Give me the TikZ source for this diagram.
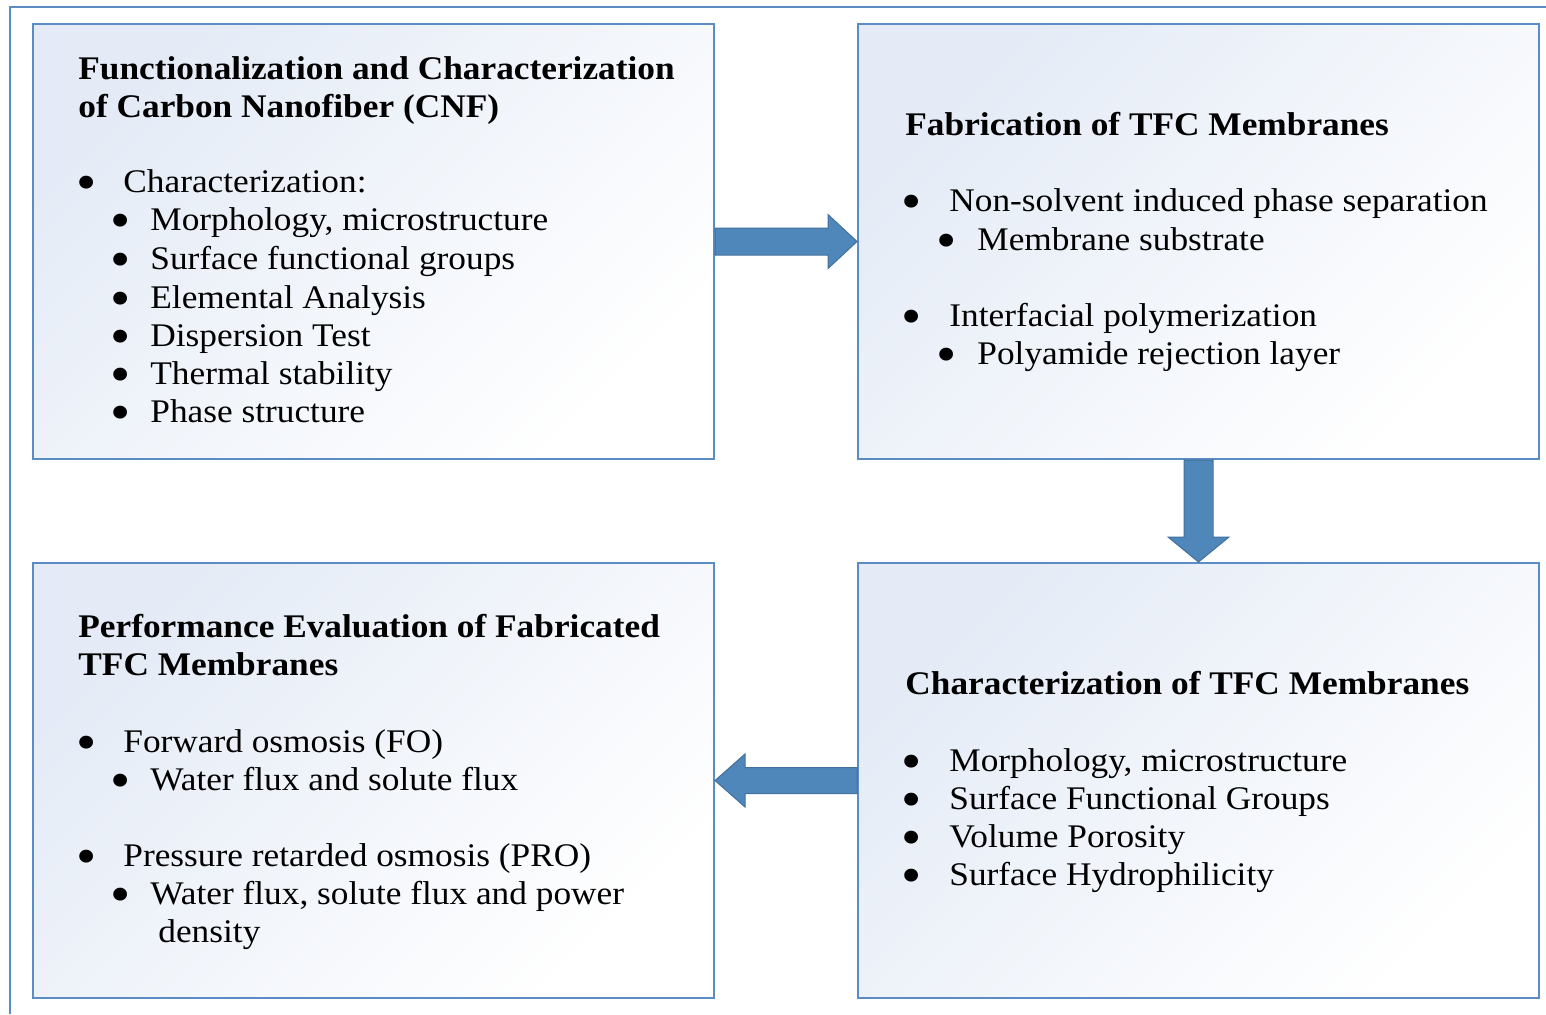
\documentclass[tikz,border=0pt]{standalone}
\usepackage{graphicx}
\usepackage{fontspec}
\setmainfont{Liberation Serif}[FakeStretch=1.07]
\usetikzlibrary{calc}
\definecolor{frameblue}{RGB}{91,140,196}
\definecolor{boxtop}{RGB}{228,235,246}
\definecolor{arrowfill}{RGB}{79,135,186}
\definecolor{arrowline}{RGB}{65,113,156}
\newcommand{\bigbullet}{\smash{\scalebox{1.636}{•}}}
\begin{document}
\begin{tikzpicture}[x=0.5pt,y=-0.5pt,
  panel/.style={draw=frameblue, line width=1pt, minimum width=340.5pt, minimum height=217.5pt,
    inner sep=0pt, anchor=north west, top color=boxtop, bottom color=white, shading angle=45},
  txt/.style={anchor=base west, inner sep=0pt, font=\fontsize{16.5pt}{19pt}\selectfont},
  ttl/.style={anchor=base west, inner sep=0pt, font=\fontsize{16.5pt}{19pt}\selectfont\bfseries},
  bul/.style={anchor=base, inner sep=0pt, yshift=-4pt, font=\fontsize{16.5pt}{19pt}\selectfont},
  blockarrow/.style={fill=arrowfill, draw=arrowline, line width=0.5pt, line join=miter}]
\useasboundingbox (0,0) rectangle (1546,1014);
\fill[white] (0,0) rectangle (1546,1014);
% outer frame
\coordinate (fa) at (10,1014);
\coordinate (fb) at (10,7);
\coordinate (fc) at (1546,7);
\draw[frameblue, line width=1pt] (fa) -- (fb) -- (fc);
% panels
\node[panel] (b1) at (32,23) {};
\node[panel] (b2) at (857,23) {};
\node[panel] (b3) at (32,562) {};
\node[panel] (b4) at (857,562) {};
% arrows
\draw[blockarrow] ($(b1.east)+(0,-13.5)$) -- ($(b2.west)+(-29,-13.5)$) -- ($(b2.west)+(-29,-27)$) -- (b2.west)
  -- ($(b2.west)+(-29,27)$) -- ($(b2.west)+(-29,13.5)$) -- ($(b1.east)+(0,13.5)$) -- cycle;
\draw[blockarrow] ($(b2.south)+(-14.5,0)$) -- ($(b4.north)+(-14.5,-25)$) -- ($(b4.north)+(-30.5,-25)$) -- (b4.north)
  -- ($(b4.north)+(30.5,-25)$) -- ($(b4.north)+(14.5,-25)$) -- ($(b2.south)+(14.5,0)$) -- cycle;
\draw[blockarrow] ($(b4.west)+(0,-13)$) -- ($(b3.east)+(30,-13)$) -- ($(b3.east)+(30,-26.5)$) -- (b3.east)
  -- ($(b3.east)+(30,26.5)$) -- ($(b3.east)+(30,13)$) -- ($(b4.west)+(0,13)$) -- cycle;
% box 1
\node[ttl] (t1a) at (78,79) {Functionalization and Characterization};
\node[ttl] (t1b) at (78,117) {of Carbon Nanofiber (CNF)};
\node[bul] (u1a) at (87,192) {\bigbullet};
\node[txt] (l1a) at (123,192) {Characterization:};
\node[bul] (u1b) at (121,230) {\bigbullet};
\node[txt] (l1b) at (150,230) {Morphology, microstructure};
\node[bul] (u1c) at (121,269) {\bigbullet};
\node[txt] (l1c) at (150,269) {Surface functional groups};
\node[bul] (u1d) at (121,308) {\bigbullet};
\node[txt] (l1d) at (150,308) {Elemental Analysis};
\node[bul] (u1e) at (121,346) {\bigbullet};
\node[txt] (l1e) at (150,346) {Dispersion Test};
\node[bul] (u1f) at (121,384) {\bigbullet};
\node[txt] (l1f) at (150,384) {Thermal stability};
\node[bul] (u1g) at (121,422) {\bigbullet};
\node[txt] (l1g) at (150,422) {Phase structure};
% box 2
\node[ttl] (t2a) at (905,135) {Fabrication of TFC Membranes};
\node[bul] (u2a) at (912,211) {\bigbullet};
\node[txt] (l2a) at (949,211) {Non-solvent induced phase separation};
\node[bul] (u2b) at (947,250) {\bigbullet};
\node[txt] (l2b) at (977,250) {Membrane substrate};
\node[bul] (u2c) at (912,326) {\bigbullet};
\node[txt] (l2c) at (949,326) {Interfacial polymerization};
\node[bul] (u2d) at (947,364) {\bigbullet};
\node[txt] (l2d) at (977,364) {Polyamide rejection layer};
% box 3
\node[ttl] (t3a) at (78,637) {Performance Evaluation of Fabricated};
\node[ttl] (t3b) at (78,675) {TFC Membranes};
\node[bul] (u3a) at (87,752) {\bigbullet};
\node[txt] (l3a) at (123,752) {Forward osmosis (FO)};
\node[bul] (u3b) at (121,790) {\bigbullet};
\node[txt] (l3b) at (150,790) {Water flux and solute flux};
\node[bul] (u3c) at (87,866) {\bigbullet};
\node[txt] (l3c) at (123,866) {Pressure retarded osmosis (PRO)};
\node[bul] (u3d) at (121,904) {\bigbullet};
\node[txt] (l3d) at (150,904) {Water flux, solute flux and power};
\node[txt] (l3e) at (158,942) {density};
% box 4
\node[ttl] (t4a) at (905,694) {Characterization of TFC Membranes};
\node[bul] (u4a) at (912,771) {\bigbullet};
\node[txt] (l4a) at (949,771) {Morphology, microstructure};
\node[bul] (u4b) at (912,809) {\bigbullet};
\node[txt] (l4b) at (949,809) {Surface Functional Groups};
\node[bul] (u4c) at (912,847) {\bigbullet};
\node[txt] (l4c) at (949,847) {Volume Porosity};
\node[bul] (u4d) at (912,885) {\bigbullet};
\node[txt] (l4d) at (949,885) {Surface Hydrophilicity};
\end{tikzpicture}
\end{document}
